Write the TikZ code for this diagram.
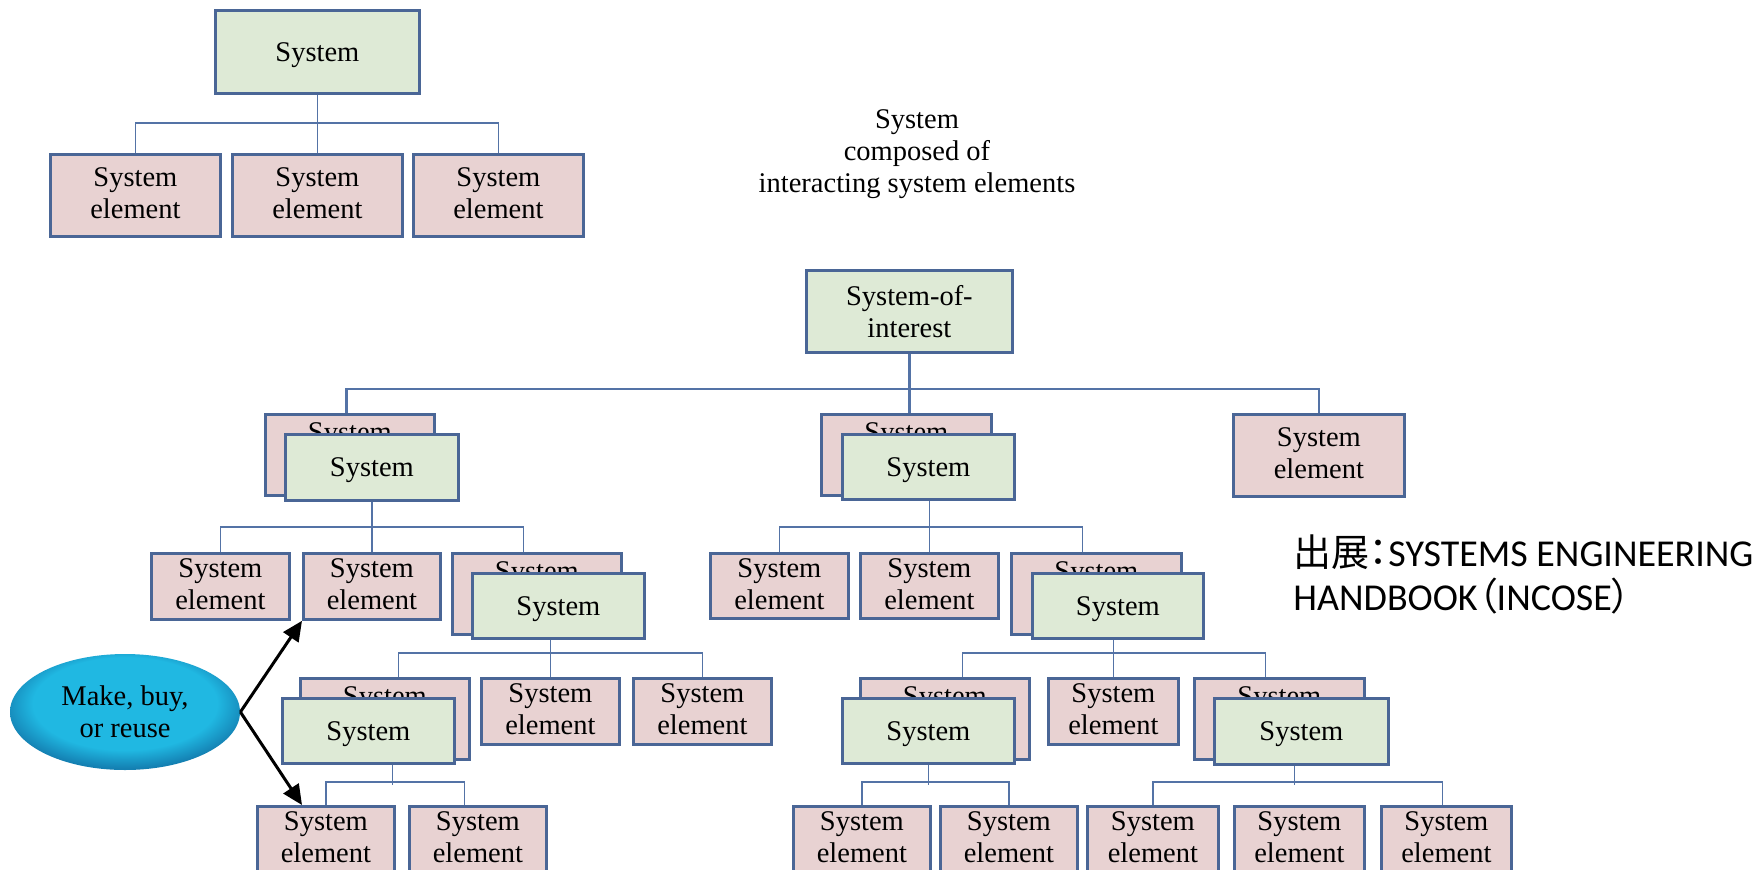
\documentclass[tikz,border=0pt]{standalone}
\usepackage{fontspec}
\setmainfont{Liberation Serif}
\newfontfamily\jpfont{Noto Sans CJK JP}[RawFeature=+palt]
\newfontfamily\carl{Carlito}
\usetikzlibrary{shapes.geometric,arrows.meta,calc}
\definecolor{greenc}{RGB}{222,234,214}
\definecolor{pinkc}{RGB}{232,210,210}
\definecolor{bordc}{RGB}{74,102,150}
\definecolor{connc}{RGB}{84,115,166}
\definecolor{cyanc}{RGB}{32,184,226}
\definecolor{cyandk}{RGB}{20,128,178}
\pgfdeclareradialshading{ballc}{\pgfpoint{0bp}{6bp}}{color(0bp)=(cyanc); color(20bp)=(cyanc); color(27bp)=(cyandk); color(50bp)=(cyandk)}
\begin{document}
\begin{tikzpicture}[x=0.5pt,y=-0.5pt,
  tms/.style={font=\fontsize{14.25}{16}\selectfont},
  boxbase/.style={draw=bordc, line width=1.4pt, inner sep=0pt, align=center, anchor=north west, tms},
  sel/.style={boxbase, fill=pinkc, text depth=2pt},
  sys/.style={boxbase, fill=greenc, text depth=0pt},
  backlbl/.style={anchor=north, inner sep=0pt, yshift=-4.5pt, tms},
  back/.style={boxbase, fill=pinkc, label={[backlbl]north:System}},
  wh/.style 2 args={minimum width=#1*0.5pt, minimum height=#2*0.5pt},
  conn/.style={draw=connc, line width=0.9pt},
  bus/.style={draw=connc, line width=1.3pt},
  arr/.style={draw=black, line width=1.5pt, -{Triangle[length=10pt,width=9pt]}},
]
\useasboundingbox (0,0) rectangle (1757,869);

% ---- top: system and elements
\node[sys, wh={204}{83}] (s0) at (214,9) {System};
\node[sel, wh={170}{82}] (e0a) at (49,153) {System\\element};
\node[sel, wh={170}{82}] (e0b) at (231,153) {System\\element};
\node[sel, wh={170}{82}] (e0c) at (412,153) {System\\element};
\draw[conn] (s0.south) -- (e0b.north);
\draw[conn] (e0a.north) -- ++(0,-30) -| (e0c.north);

\node[tms, align=center, inner sep=0pt] (cap) at (917,154) {System\\composed of\\interacting system elements};

% ---- level 1
\node[sys, wh={206}{82}] (soi) at (805,269) {System-of-\\interest};
\node[back, wh={169}{81}] (lb) at (264,413) {};
\node[sys, wh={173}{66}] (lf) at (284,433) {System};
\node[back, wh={170}{81}] (mb) at (820,413) {};
\node[sys, wh={172}{65}] (mf) at (841,433) {System};
\node[sel, wh={171}{82}] (re) at (1232,413) {System\\element};
\draw[bus] (soi.south) -- (soi.south |- mb.north);
\draw[bus] ($(lb.north)+(-3.5,0)$) -- ++(0,-24) -| (re.north);

% ---- level 2 left
\node[sel, wh={138}{66}] (l1) at (150,552) {System\\element};
\node[sel, wh={137}{66}] (l2) at (302,552) {System\\element};
\node[back, wh={169}{81}] (l3b) at (451,552) {};
\node[sys, wh={172}{65}] (l3f) at (471,572) {System};
\draw[conn] (lf.south) -- (l2.north);
\draw[conn] (l1.north) -- ++(0,-25) -| ($(l3b.north)+(-13.5,0)$);

% ---- level 3 left
\node[back, wh={169}{81}] (ll1b) at (299,677) {};
\node[sys, wh={172}{65}] (ll1f) at (281,697) {System};
\node[sel, wh={138}{66}] (ll2) at (480,677) {System\\element};
\node[sel, wh={138}{66}] (ll3) at (632,677) {System\\element};
\draw[conn] (ll2.north) -- (ll2.north |- l3f.south);
\draw[conn] ($(ll1b.north)+(13.5,0)$) -- ++(0,-24) -| (ll3.north);

% ---- level 4 left
\node[sel, wh={137}{66}] (b1) at (256,805) {System\\element};
\node[sel, wh={137}{66}] (b2) at (408,805) {System\\element};
\draw[conn] (b1.north) -- ++(0,-23) -| ($(b2.north)+(-13.5,0)$);
\draw[conn] ($(ll1f.south)+(24,0)$) -- ++(0,20);

% ---- level 2 middle
\node[sel, wh={138}{65}] (m1) at (709,552) {System\\element};
\node[sel, wh={138}{65}] (m2) at (859,552) {System\\element};
\node[back, wh={170}{81}] (m3b) at (1010,552) {};
\node[sys, wh={171}{65}] (m3f) at (1031,572) {System};
\draw[conn] (m2.north) -- (m2.north |- mf.south);
\draw[conn] (m1.north) -- ++(0,-25) -| ($(m3b.north)+(-14,0)$);

% ---- level 3 middle
\node[back, wh={169}{81}] (mm1b) at (859,677) {};
\node[sys, wh={172}{65}] (mm1f) at (841,697) {System};
\node[sel, wh={130}{66}] (mm2) at (1047,677) {System\\element};
\node[back, wh={170}{81}] (mm3b) at (1193,677) {};
\node[sys, wh={174}{66}] (mm3f) at (1213,697) {System};
\draw[conn] (mm2.north) -- (mm2.north |- m3f.south);
\draw[conn] ($(mm1b.north)+(17.5,0)$) -- ++(0,-24) -| ($(mm3b.north)+(-14,0)$);

% ---- level 4 middle
\node[sel, wh={137}{66}] (c1) at (792,805) {System\\element};
\node[sel, wh={137}{66}] (c2) at (939,805) {System\\element};
\draw[conn] (c1.north) -- ++(0,-23) -| (c2.north);
\draw[conn] (mm1f.south) -- ++(0,20);

\node[sel, wh={131}{66}] (d1) at (1086,805) {System\\element};
\node[sel, wh={130}{66}] (d2) at (1233,805) {System\\element};
\node[sel, wh={130}{66}] (d3) at (1380,805) {System\\element};
\draw[conn] (d1.north) -- ++(0,-23) -| ($(d3.north)+(-4,0)$);
\draw[conn] ($(mm3f.south)+(-7,0)$) -- ++(0,19);

% ---- make, buy, or reuse
\node[ellipse, shading=ballc, minimum width=115pt, minimum height=58pt, inner sep=0pt, tms, align=center] (mbr) at (125,712) {Make, buy,\\or reuse};
\draw[arr] (mbr.east) -- (l2.south west);
\draw[arr] (mbr.east) -- ($(b1.north west)+(46,0)$);

% ---- source
\node[anchor=base west, inner sep=0pt, font=\carl\fontsize{19}{20.5}\selectfont] (src) at (1293,566) {\begin{tabular}[t]{@{}l@{}}{\jpfont 出展：}SYSTEMS ENGINEERING\\HANDBOOK{\jpfont （}INCOSE{\jpfont ）}\end{tabular}};
\end{tikzpicture}
\end{document}
